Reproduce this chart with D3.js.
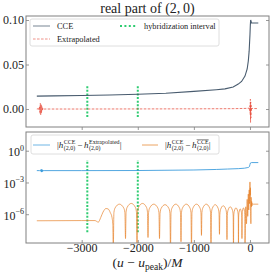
<!DOCTYPE html>
<html>
<head>
<meta charset="utf-8">
<title>real part of (2,0)</title>
<script src="https://cdn.jsdelivr.net/npm/d3@7"></script>
<style>
 body { margin: 0; background: #fff; }
 svg text { font-family: "Liberation Serif", "DejaVu Serif", serif; fill: #222; }
</style>
</head>
<body>
<div id="chart"></div>
<script>
// ---- data ----
var cceU   = [-3800, -3500, -3000, -2500, -2000, -1500, -1000, -600, -446, -300, -209, -150, -89, -50, -30, -15, 0, 6, 12, 18, 27, 60, 148];
var cceVal = [0.0145, 0.0148, 0.0152, 0.0158, 0.0166, 0.0178, 0.0198, 0.0217, 0.0226, 0.0248, 0.028, 0.031, 0.037, 0.045, 0.054, 0.065, 0.084, 0.094, 0.1, 0.099, 0.0966, 0.0966, 0.0966];

var extrapU   = [-3800, -3770, -3760, -3752, -3745, -3738, -3731, -3724, -3717, -3710, -3703, -3695, -3685, -3660, -3000, -2000, -1000, -300, -60, -20, -5, 0, 4, 7, 10, 13, 16, 19, 23, 30, 60, 148];
var extrapVal = [0, 0.0004, -0.0015, 0.003, -0.0048, 0.0064, -0.0067, 0.0055, -0.0045, 0.0032, -0.002, 0.001, -0.0004, 0, 0, 0.0001, 0.0002, 0.0004, 0.0007, 0.001, -0.002, 0.004, -0.006, 0.011, -0.015, 0.008, -0.01, 0.004, -0.002, 0.0008, 0.0005, 0.0005];

// hybridization interval
var hybridU = [-2900, -2000];
var hybridTop = [-0.009, 0.026];
var hybridBottom = [2e-8, 0.13];

// |h_CCE - h_Extrapolated|, log10 values
var blueU   = [-3800, -3750, -3735, -3728, -3721, -3714, -3707, -3700, -3693, -3685, -3670, -3000, -2000, -1000, -600, -400, -200, -100, -50, -25, -10, 0, 8, 15, 25, 148];
var blueExp = [-1.88, -1.88, -1.84, -1.95, -1.76, -2.02, -1.78, -1.97, -1.82, -1.9, -1.88, -1.88, -1.87, -1.82, -1.77, -1.73, -1.69, -1.65, -1.6, -1.57, -1.5, -1.3, -1.16, -1.13, -1.12, -1.12];

// |h_CCE - h_CCEbar|, log10 values
var orangeU = [-3800, -3000, -2763, -2704, -2660, -2620, -2590, -2572, -2530, -2490, -2460, -2445, -2437,
  -2426, -2404, -2328, -2252, -2230, -2219,
  -2209, -2188, -2116, -2045, -2024, -2014,
  -2004, -1985, -1916, -1847, -1828, -1818,
  -1808, -1787, -1715, -1644, -1623, -1613,
  -1603, -1584, -1515, -1446, -1427, -1417,
  -1408, -1389, -1323, -1258, -1239, -1230,
  -1221, -1202, -1136, -1071, -1052, -1043,
  -1034, -1016, -954, -892, -874, -865,
  -857, -840, -780, -720, -703, -695,
  -687, -672, -620, -567, -552, -544,
  -537, -524, -477, -430, -417, -410,
  -404, -393, -352, -311, -300, -294,
  -290, -281, -250, -218, -209, -205,
  -202, -196, -174, -152, -146, -143,
  -140, -135, -116, -97, -92, -89,
  -75, -62, -50, -40, -30, -22, -14, -8, -3, 0, 4, 8, 12, 16, 20, 25, 30, 36, 45, 60, 148];
var orangeExp = [-6.62, -6.6, -6.6, -6.75, -6.3, -5.8, -5.55, -5.46, -5.5, -5.85, -6.3, -7.0, -9.5,
  -5.85, -5.4, -5.05, -5.4, -5.85, -8.3,
  -5.78, -5.33, -4.98, -5.33, -5.78, -9.5,
  -5.78, -5.33, -4.98, -5.33, -5.78, -8.2,
  -5.85, -5.4, -5.05, -5.4, -5.85, -8.3,
  -5.9, -5.45, -5.1, -5.45, -5.9, -9.5,
  -5.85, -5.4, -5.05, -5.4, -5.85, -8.6,
  -5.85, -5.4, -5.05, -5.4, -5.85, -9.5,
  -5.85, -5.4, -5.05, -5.4, -5.85, -8.0,
  -5.85, -5.4, -5.05, -5.4, -5.85, -9.5,
  -5.9, -5.45, -5.1, -5.45, -5.9, -7.9,
  -6.0, -5.55, -5.2, -5.55, -6.0, -8.4,
  -6.1, -5.65, -5.3, -5.65, -6.1, -9.5,
  -6.2, -5.75, -5.4, -5.75, -6.2, -9.5,
  -6.3, -5.85, -5.5, -5.85, -6.3, -8.3,
  -6.2, -5.75, -5.4, -5.75, -6.2, -8.8,
  -5.3, -6.9, -4.6, -6.2, -4.1, -5.6, -3.7, -5.0, -3.3, -2.95, -4.2, -3.5, -5.5, -6.9, -4.4, -5.3, -4.8, -5.2, -5.0, -5.05, -5.05];

var xTicks = [-3000, -2000, -1000, 0];
var topTicks = [0, 0.05, 0.10];
var topTickLabels = ["0.00", "0.05", "0.10"];
var logTicks = [1, 1e-3, 1e-6];
var logTickExps = ["0", "\u22123", "\u22126"];

// ---- layout ----
var W = 273, H = 273;
var left = 26, right = 269;
var top1 = 16, bot1 = 127, top2 = 132, bot2 = 243;
var spineCol = "#808080";
var cGrey = "#34495e", cRed = "#e74c3c", cGreen = "#2ecc71", cBlue = "#3498db", cOrange = "#e67e22";

var svg = d3.select("#chart").append("svg").attr("width", W).attr("height", H);

var x = d3.scaleLinear().domain([-3993, 339]).range([left, right]);
var yTop = d3.scaleLinear().domain([-0.0202, 0.1045]).range([bot1, top1]);
var yBot = d3.scaleLog().domain([Math.pow(10, -8.72), Math.pow(10, 1.77)]).range([bot2, top2]);

var defs = svg.append("defs");
defs.append("clipPath").attr("id", "clipTop").append("rect")
  .attr("x", left).attr("y", top1).attr("width", right - left).attr("height", bot1 - top1);
defs.append("clipPath").attr("id", "clipBot").append("rect")
  .attr("x", left).attr("y", top2).attr("width", right - left).attr("height", bot2 - top2);

function styleAxis(g) {
  g.select(".domain").remove();
  g.selectAll("line").attr("stroke", spineCol).attr("stroke-width", 0.8);
  g.attr("font-family", null).attr("font-size", null);
  g.selectAll("text").style("font-size", "12px");
}

// ---- top panel ----
var gTop = svg.append("g");
gTop.append("g").attr("transform", "translate(" + left + ",0)")
  .call(d3.axisLeft(yTop).tickValues(topTicks).tickSize(-3).tickPadding(2)
    .tickFormat(function(d, i) { return topTickLabels[i]; }))
  .call(styleAxis);
gTop.append("g").attr("transform", "translate(" + right + ",0)")
  .call(d3.axisRight(yTop).tickValues(topTicks).tickSize(-3).tickFormat(""))
  .call(styleAxis);
gTop.append("g").attr("transform", "translate(0," + bot1 + ")")
  .call(d3.axisBottom(x).tickValues(xTicks).tickSize(3).tickFormat(""))
  .call(styleAxis);

var plotTop = gTop.append("g").attr("clip-path", "url(#clipTop)");
var lineTop = d3.line().x(function(d) { return x(d[0]); }).y(function(d) { return yTop(d[1]); });

hybridU.forEach(function(u) {
  plotTop.append("line")
    .attr("x1", x(u)).attr("x2", x(u))
    .attr("y1", yTop(hybridTop[0])).attr("y2", yTop(hybridTop[1]))
    .attr("stroke", cGreen).attr("stroke-width", 2).attr("stroke-dasharray", "2,1.6");
});
plotTop.append("path")
  .datum(d3.zip(cceU, cceVal))
  .attr("d", lineTop).attr("fill", "none")
  .attr("stroke", cGrey).attr("stroke-width", 1.1).attr("opacity", 0.9);
plotTop.append("path")
  .datum(d3.zip(extrapU, extrapVal))
  .attr("d", lineTop).attr("fill", "none")
  .attr("stroke", cRed).attr("stroke-width", 1).attr("opacity", 0.75)
  .attr("stroke-dasharray", "2.6,1.4");

gTop.append("rect").attr("x", left).attr("y", top1)
  .attr("width", right - left).attr("height", bot1 - top1)
  .attr("fill", "none").attr("stroke", spineCol).attr("stroke-width", 1);

// legend (top)
var lg1 = gTop.append("g");
lg1.append("rect").attr("x", 30).attr("y", 19).attr("width", 189).attr("height", 27).attr("rx", 2)
  .attr("fill", "#fff").attr("fill-opacity", 0.85).attr("stroke", "#d6d6d6").attr("stroke-width", 0.8);
lg1.append("line").attr("x1", 33).attr("x2", 50).attr("y1", 26).attr("y2", 26)
  .attr("stroke", cGrey).attr("stroke-width", 1.1).attr("opacity", 0.6);
lg1.append("text").attr("x", 57).attr("y", 29).style("font-size", "8.4px").text("CCE");
lg1.append("line").attr("x1", 33).attr("x2", 50).attr("y1", 39).attr("y2", 39)
  .attr("stroke", cRed).attr("stroke-width", 1).attr("opacity", 0.6).attr("stroke-dasharray", "2.6,1.4");
lg1.append("text").attr("x", 57).attr("y", 42).style("font-size", "8.4px").text("Extrapolated");
lg1.append("line").attr("x1", 120).attr("x2", 137).attr("y1", 26).attr("y2", 26)
  .attr("stroke", cGreen).attr("stroke-width", 2).attr("stroke-dasharray", "2,2.4");
lg1.append("text").attr("x", 144).attr("y", 29).style("font-size", "8.3px").text("hybridization interval");

// title
svg.append("text").attr("x", (left + right) / 2).attr("y", 13).attr("text-anchor", "middle")
  .style("font-size", "14px").text("real part of (2,\u20090)");

// ---- bottom panel ----
var gBot = svg.append("g");
gBot.append("g").attr("transform", "translate(" + left + ",0)")
  .call(d3.axisLeft(yBot).tickValues(logTicks).tickSize(-3).tickFormat(""))
  .call(styleAxis);
gBot.append("g").attr("transform", "translate(" + right + ",0)")
  .call(d3.axisRight(yBot).tickValues(logTicks).tickSize(-3).tickFormat(""))
  .call(styleAxis);
gBot.append("g").attr("transform", "translate(0," + bot2 + ")")
  .call(d3.axisBottom(x).tickValues(xTicks).tickSize(-3).tickPadding(0.5)
    .tickFormat(function(d) { return d < 0 ? "\u2212" + Math.abs(d) : String(d); }))
  .call(styleAxis);

logTicks.forEach(function(v, i) {
  var t = gBot.append("text").attr("x", 24).attr("y", yBot(v) + 5.3).attr("text-anchor", "end");
  t.append("tspan").style("font-size", "12px").text("10");
  t.append("tspan").style("font-size", "8px").attr("dy", -5.5).text(logTickExps[i]);
});

var plotBot = gBot.append("g").attr("clip-path", "url(#clipBot)");
var lineBot = d3.line().x(function(d) { return x(d[0]); }).y(function(d) { return yBot(Math.pow(10, d[1])); });

hybridU.forEach(function(u) {
  plotBot.append("line")
    .attr("x1", x(u)).attr("x2", x(u))
    .attr("y1", yBot(hybridBottom[0])).attr("y2", yBot(hybridBottom[1]))
    .attr("stroke", cGreen).attr("stroke-width", 2).attr("stroke-dasharray", "2,1.6");
});
plotBot.append("path")
  .datum(d3.zip(blueU, blueExp))
  .attr("d", lineBot).attr("fill", "none")
  .attr("stroke", cBlue).attr("stroke-width", 1).attr("opacity", 0.85);
plotBot.append("path")
  .datum(d3.zip(orangeU, orangeExp))
  .attr("d", lineBot.curve(d3.curveMonotoneX)).attr("fill", "none")
  .attr("stroke", cOrange).attr("stroke-width", 0.9).attr("opacity", 0.75);

gBot.append("rect").attr("x", left).attr("y", top2)
  .attr("width", right - left).attr("height", bot2 - top2)
  .attr("fill", "none").attr("stroke", spineCol).attr("stroke-width", 1);

// math text helper: groups of pieces stacked at the same x
function mathText(g, x0, y0, groups) {
  var cx = x0;
  groups.forEach(function(grp) {
    var w = 0;
    grp.forEach(function(p) {
      var t = g.append("text").attr("x", cx + (p.dx || 0)).attr("y", y0 + (p.dy || 0))
        .style("font-size", p.size + "px")
        .style("font-style", p.italic ? "italic" : "normal")
        .text(p.t);
      var len = t.node().getComputedTextLength() + (p.dx || 0);
      if (p.over) {
        g.append("line").attr("x1", cx).attr("x2", cx + len)
          .attr("y1", y0 + p.dy - p.size * 0.78).attr("y2", y0 + p.dy - p.size * 0.78)
          .attr("stroke", "#222").attr("stroke-width", 0.4);
      }
      w = Math.max(w, len);
    });
    cx += w;
  });
  return cx;
}

// legend (bottom)
var lg2 = gBot.append("g");
lg2.append("rect").attr("x", 31).attr("y", 135).attr("width", 188).attr("height", 19).attr("rx", 2)
  .attr("fill", "#fff").attr("fill-opacity", 0.85).attr("stroke", "#d6d6d6").attr("stroke-width", 0.8);
lg2.append("line").attr("x1", 33).attr("x2", 50).attr("y1", 145).attr("y2", 145)
  .attr("stroke", cBlue).attr("stroke-width", 1).attr("opacity", 0.7);
lg2.append("line").attr("x1", 142).attr("x2", 158).attr("y1", 145).attr("y2", 145)
  .attr("stroke", cOrange).attr("stroke-width", 1).attr("opacity", 0.7);

var ms = 9, ss = 6;
mathText(lg2, 57, 148, [
  [{t: "|", size: ms}],
  [{t: "h", size: ms, italic: true}],
  [{t: "CCE", size: ss, dy: -3.8, dx: 0.4}, {t: "(2,0)", size: ss, dy: 2.3, dx: 0.4}],
  [{t: "\u2009\u2212\u2009", size: ms}],
  [{t: "h", size: ms, italic: true}],
  [{t: "Extrapolated", size: ss, dy: -3.8, dx: 0.4}, {t: "(2,0)", size: ss, dy: 2.3, dx: 0.4}],
  [{t: "|", size: ms}]
]);
mathText(lg2, 165, 148, [
  [{t: "|", size: ms}],
  [{t: "h", size: ms, italic: true}],
  [{t: "CCE", size: ss, dy: -3.8, dx: 0.4}, {t: "(2,0)", size: ss, dy: 2.3, dx: 0.4}],
  [{t: "\u2009\u2212\u2009", size: ms}],
  [{t: "h", size: ms, italic: true}],
  [{t: "CCE", size: ss, dy: -3.8, dx: 0.4, over: true}, {t: "(2,0)", size: ss, dy: 2.3, dx: 0.4}],
  [{t: "|", size: ms}]
]);

// x label
var xl = svg.append("text").attr("x", (left + right) / 2).attr("y", 267).attr("text-anchor", "middle")
  .style("font-size", "13.5px");
xl.append("tspan").text("(");
xl.append("tspan").style("font-style", "italic").text("u");
xl.append("tspan").text(" \u2212 ");
xl.append("tspan").style("font-style", "italic").text("u");
xl.append("tspan").style("font-size", "9.5px").attr("dy", 2.5).text("peak");
xl.append("tspan").attr("dy", -2.5).text(")/");
xl.append("tspan").style("font-style", "italic").text("M");
</script>
</body>
</html>
